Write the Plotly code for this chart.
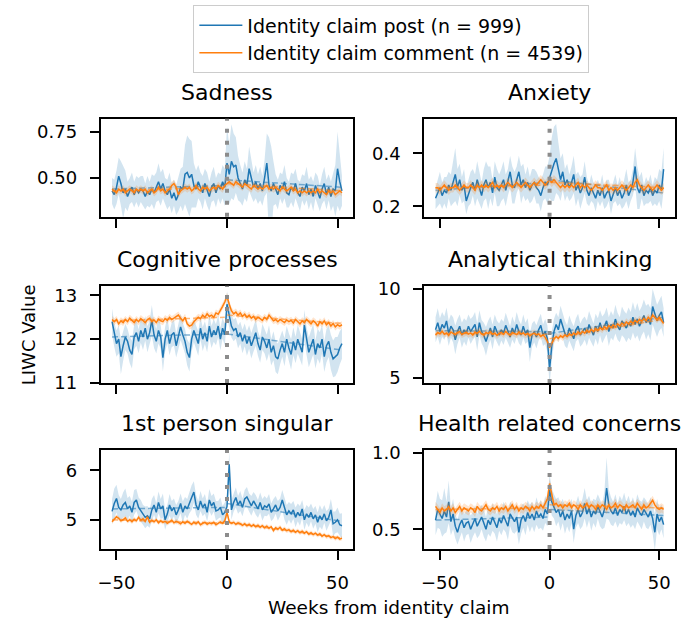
import plotly.graph_objects as go

weeks = list(range(-52, 53))

series_names = ["Identity claim post (n = 999)", "Identity claim comment (n = 4539)"]
panel_titles = ["Sadness", "Anxiety", "Cognitive processes", "Analytical thinking",
                "1st person singular", "Health related concerns"]

# ---------------- Sadness ----------------
sadness_post = [0.43,0.41,0.45,0.51,0.47,0.42,0.44,0.40,0.43,0.45,0.41,0.44,0.42,0.44,0.43,
                0.40,0.43,0.41,0.44,0.42,0.45,0.48,0.44,0.47,0.43,0.41,0.44,0.39,0.42,0.38,
                0.41,0.45,0.44,0.52,0.53,0.50,0.52,0.46,0.44,0.48,0.45,0.42,0.47,0.44,0.40,
                0.45,0.47,0.42,0.46,0.44,0.48,0.45,0.58,0.52,0.59,0.56,0.57,0.50,0.47,0.44,
                0.49,0.46,0.55,0.50,0.45,0.48,0.44,0.47,0.43,0.50,0.58,0.46,0.43,0.47,0.44,
                0.41,0.46,0.44,0.48,0.42,0.41,0.45,0.43,0.47,0.42,0.40,0.45,0.43,0.47,0.41,
                0.44,0.40,0.46,0.43,0.39,0.44,0.47,0.41,0.45,0.40,0.44,0.43,0.55,0.48,0.43]
sadness_post_ci = [.07,.08,.09,.10,.12,.14,.10,.08,.07,.08,.07,.07,.08,.07,.08,
                   .07,.08,.07,.08,.09,.08,.10,.09,.08,.07,.08,.09,.08,.07,.08,
                   .09,.10,.12,.16,.20,.21,.18,.12,.10,.09,.08,.09,.08,.09,.08,
                   .08,.09,.08,.07,.08,.09,.10,.20,.16,.20,.18,.15,.12,.10,.09,
                   .10,.09,.12,.10,.08,.09,.08,.09,.08,.10,.16,.26,.24,.12,.08,
                   .08,.07,.08,.09,.08,.07,.08,.09,.08,.07,.08,.07,.08,.09,.08,
                   .07,.08,.07,.08,.07,.08,.09,.08,.07,.08,.09,.14,.20,.16,.08]
sadness_comment = [0.44,0.43,0.42,0.44,0.43,0.44,0.42,0.43,0.44,0.43,0.42,0.44,0.43,0.44,0.43,
                   0.44,0.42,0.43,0.44,0.42,0.43,0.45,0.43,0.44,0.42,0.43,0.44,0.46,0.47,0.45,
                   0.41,0.43,0.44,0.45,0.44,0.45,0.43,0.44,0.46,0.44,0.43,0.45,0.44,0.45,0.43,
                   0.44,0.45,0.44,0.46,0.45,0.44,0.46,0.47,0.48,0.47,0.46,0.48,0.47,0.46,0.45,
                   0.47,0.46,0.45,0.44,0.46,0.45,0.44,0.45,0.44,0.45,0.46,0.44,0.45,0.44,0.45,
                   0.44,0.43,0.45,0.44,0.43,0.44,0.45,0.43,0.44,0.42,0.43,0.42,0.43,0.42,0.43,
                   0.42,0.43,0.42,0.44,0.42,0.43,0.42,0.41,0.43,0.42,0.43,0.41,0.42,0.43,0.42]
sadness_comment_ci = 0.02
sadness_trend_post = [0.44, 0.46, 0.49, 0.45]
sadness_trend_comment = [0.43, 0.45, 0.47, 0.43]

# ---------------- Anxiety ----------------
anxiety_post = [0.23,0.25,0.27,0.24,0.26,0.25,0.28,0.26,0.29,0.32,0.27,0.30,0.26,0.28,0.22,
                0.25,0.27,0.29,0.26,0.30,0.27,0.24,0.28,0.30,0.27,0.29,0.25,0.31,0.27,0.26,
                0.28,0.30,0.26,0.29,0.33,0.28,0.27,0.30,0.33,0.28,0.30,0.27,0.29,0.26,0.28,
                0.29,0.27,0.26,0.24,0.27,0.29,0.28,0.31,0.34,0.36,0.38,0.34,0.30,0.33,0.28,
                0.30,0.27,0.29,0.32,0.26,0.28,0.25,0.27,0.31,0.26,0.24,0.27,0.25,0.23,0.26,
                0.24,0.27,0.23,0.25,0.26,0.22,0.25,0.27,0.24,0.26,0.23,0.25,0.28,0.24,0.26,
                0.29,0.35,0.27,0.25,0.28,0.24,0.26,0.25,0.27,0.24,0.26,0.25,0.28,0.26,0.34]
anxiety_post_ci = [.04,.05,.06,.05,.05,.06,.05,.06,.08,.10,.07,.06,.05,.06,.05,
                   .05,.06,.05,.06,.07,.06,.05,.06,.07,.08,.06,.05,.06,.07,.06,
                   .06,.07,.06,.05,.06,.07,.06,.05,.06,.07,.06,.05,.06,.05,.06,
                   .05,.06,.05,.06,.05,.06,.07,.08,.12,.14,.13,.10,.08,.07,.06,
                   .06,.05,.06,.07,.06,.05,.06,.05,.06,.05,.04,.05,.04,.05,.04,
                   .04,.05,.04,.05,.04,.05,.04,.05,.04,.05,.04,.05,.06,.05,.04,
                   .05,.07,.08,.06,.05,.04,.05,.04,.05,.04,.05,.05,.06,.07,.08]
anxiety_comment = [0.27,0.27,0.26,0.27,0.28,0.27,0.26,0.27,0.27,0.28,0.27,0.26,0.27,0.28,0.27,
                   0.27,0.28,0.27,0.26,0.28,0.27,0.28,0.27,0.28,0.27,0.28,0.29,0.27,0.28,0.27,
                   0.28,0.27,0.28,0.29,0.28,0.27,0.28,0.29,0.28,0.27,0.28,0.29,0.28,0.27,0.28,
                   0.29,0.28,0.29,0.30,0.29,0.28,0.29,0.30,0.29,0.30,0.29,0.28,0.27,0.28,0.27,
                   0.28,0.27,0.28,0.27,0.28,0.29,0.27,0.28,0.27,0.28,0.27,0.26,0.27,0.28,0.27,
                   0.27,0.26,0.27,0.28,0.26,0.27,0.26,0.27,0.26,0.27,0.28,0.27,0.26,0.27,0.28,
                   0.27,0.29,0.30,0.28,0.27,0.26,0.27,0.28,0.27,0.26,0.27,0.28,0.27,0.26,0.27]
anxiety_comment_ci = 0.018
anxiety_trend_post = [0.26, 0.29, 0.30, 0.25]
anxiety_trend_comment = [0.27, 0.28, 0.29, 0.27]

# ---------------- Cognitive processes ----------------
cognitive_post = [12.40,12.10,11.90,12.00,11.60,11.85,12.05,11.95,11.75,11.65,12.05,12.15,11.95,12.20,12.05,
                  12.25,12.00,12.15,12.43,12.10,11.95,12.20,12.05,11.58,12.00,12.20,11.90,12.10,12.15,11.85,
                  12.05,12.28,12.10,11.95,11.70,11.58,12.00,12.20,12.05,11.90,12.25,12.00,12.15,11.95,12.30,
                  12.05,12.20,12.10,12.30,12.00,12.25,12.10,12.80,12.55,12.30,12.20,12.25,12.05,12.15,11.95,
                  12.10,11.90,12.05,11.85,12.00,12.15,11.90,11.75,12.05,11.95,11.80,12.00,11.70,11.85,11.60,
                  11.55,11.75,11.90,11.70,12.00,11.80,11.65,11.95,11.75,12.00,11.85,11.70,12.32,11.95,11.70,
                  11.85,12.00,11.65,11.90,11.80,12.00,11.60,11.85,11.95,11.70,11.55,11.60,11.65,11.80,11.90]
cognitive_post_ci = [.30,.28,.30,.32,.40,.35,.30,.28,.30,.32,.28,.30,.27,.28,.30,
                     .28,.30,.27,.35,.30,.28,.30,.27,.32,.28,.30,.27,.28,.30,.27,
                     .28,.30,.27,.28,.30,.32,.28,.27,.26,.28,.25,.27,.26,.25,.27,
                     .25,.26,.24,.25,.26,.24,.25,.30,.28,.26,.25,.24,.26,.25,.27,
                     .26,.28,.27,.29,.28,.30,.28,.29,.30,.28,.30,.32,.30,.33,.35,
                     .35,.33,.30,.32,.30,.33,.35,.32,.30,.33,.31,.30,.35,.32,.34,
                     .33,.35,.32,.34,.36,.33,.35,.38,.36,.40,.42,.45,.40,.38,.35]
cognitive_comment = [12.45,12.40,12.45,12.35,12.42,12.38,12.45,12.40,12.48,12.42,12.38,12.45,12.40,12.47,12.43,
                     12.38,12.45,12.48,12.40,12.44,12.38,12.46,12.42,12.40,12.47,12.43,12.50,12.45,12.48,12.52,
                     12.55,12.48,12.42,12.50,12.35,12.30,12.32,12.40,12.45,12.50,12.47,12.55,12.50,12.58,12.52,
                     12.55,12.50,12.60,12.57,12.65,12.75,12.85,12.98,12.80,12.65,12.58,12.62,12.55,12.60,12.52,
                     12.57,12.50,12.55,12.48,12.52,12.45,12.50,12.47,12.43,12.50,12.45,12.55,12.48,12.42,12.45,
                     12.40,12.45,12.42,12.38,12.44,12.40,12.43,12.37,12.45,12.40,12.35,12.42,12.38,12.45,12.40,
                     12.35,12.42,12.38,12.30,12.40,12.35,12.42,12.33,12.38,12.30,12.36,12.28,12.33,12.30,12.33]
cognitive_comment_ci = 0.08
cognitive_trend_post = [12.05, 12.12, 12.12, 11.75]
cognitive_trend_comment = [12.42, 12.50, 12.55, 12.36]

# ---------------- Analytical thinking ----------------
analytical_post = [7.70,8.10,7.60,8.00,7.80,8.20,7.50,7.90,7.70,7.14,7.60,7.90,7.40,7.70,7.50,
                   7.90,7.60,7.80,8.00,7.30,8.10,7.60,7.40,7.05,7.50,7.80,7.30,7.90,7.60,7.40,
                   7.70,7.50,7.95,7.60,7.30,7.80,7.50,8.00,7.60,7.40,7.90,7.50,7.70,6.70,7.40,
                   7.60,7.30,7.70,7.95,7.40,7.60,7.20,5.50,6.80,7.60,8.00,7.70,8.30,7.90,7.50,
                   7.30,7.80,7.50,7.20,7.70,7.90,7.40,7.60,7.80,7.50,8.00,7.70,7.40,7.90,7.60,
                   8.10,7.70,7.90,8.20,7.60,8.00,7.80,8.30,7.90,7.70,8.20,8.00,7.80,8.10,7.90,
                   8.40,8.00,8.30,7.90,8.20,8.50,8.10,8.30,8.00,9.00,8.60,8.20,8.50,8.70,8.10]
analytical_post_ci = [.70,.80,.75,.70,.65,.75,.70,.65,.70,.80,.70,.65,.70,.65,.70,
                      .65,.70,.65,.70,.75,.70,.65,.70,.80,.70,.65,.70,.65,.60,.65,
                      .60,.65,.70,.65,.60,.65,.60,.70,.65,.60,.65,.60,.65,.80,.65,
                      .60,.65,.60,.65,.60,.70,.75,.90,.80,.70,.65,.70,.75,.65,.70,
                      .65,.70,.65,.70,.65,.70,.65,.70,.65,.70,.75,.70,.65,.70,.75,
                      .70,.75,.70,.75,.80,.75,.70,.80,.75,.70,.80,.75,.80,.85,.80,
                      .85,.80,.90,.85,.80,.90,.95,.85,.90,1.0,.95,.90,.85,.90,.80]
analytical_comment = [7.40,7.55,7.48,7.62,7.45,7.52,7.38,7.58,7.50,7.42,7.55,7.60,7.44,7.50,7.57,
                      7.46,7.53,7.41,7.58,7.50,7.62,7.47,7.40,7.55,7.49,7.60,7.45,7.52,7.38,7.50,
                      7.56,7.44,7.61,7.48,7.39,7.55,7.50,7.43,7.58,7.47,7.53,7.41,7.50,7.36,7.46,
                      7.52,7.40,7.47,7.33,7.42,7.28,7.05,6.70,6.95,7.18,7.32,7.22,7.38,7.27,7.42,
                      7.33,7.48,7.38,7.52,7.43,7.58,7.47,7.62,7.51,7.68,7.57,7.72,7.60,7.78,7.66,
                      7.82,7.71,7.88,7.76,7.93,7.82,7.98,7.86,8.03,7.92,8.08,7.96,8.14,8.02,8.18,
                      8.06,8.23,8.12,8.28,8.17,8.34,8.21,8.40,8.27,8.52,8.38,8.26,8.40,8.22,8.05]
analytical_comment_ci = 0.2
analytical_trend_post = [7.65, 7.60, 7.50, 8.40]
analytical_trend_comment = [7.50, 7.45, 7.20, 8.30]

# ---------------- 1st person singular ----------------
first_person_post = [5.17,5.33,5.43,5.25,5.20,5.30,5.35,5.22,5.28,5.15,5.35,5.40,5.25,5.18,5.10,
                     5.05,5.08,5.02,5.20,5.30,5.15,5.35,5.22,5.28,5.00,5.12,5.30,5.18,5.25,5.10,
                     5.20,5.33,5.15,5.28,5.22,5.35,5.45,5.56,5.30,5.20,5.38,5.25,5.32,5.15,5.40,
                     5.28,5.35,5.18,5.20,5.25,5.10,5.15,5.27,6.12,5.20,5.35,5.45,5.30,5.38,5.25,
                     5.42,5.46,5.35,5.28,5.38,5.30,5.22,5.35,5.20,5.28,5.25,5.32,5.15,5.22,5.30,
                     5.18,5.25,5.40,5.22,5.10,5.18,5.12,5.20,5.05,5.15,5.08,5.22,5.00,5.12,5.05,
                     5.15,5.02,5.10,4.95,5.08,5.00,5.12,4.98,5.05,5.20,4.92,4.95,5.00,4.90,4.88]
first_person_post_ci = [.25,.30,.28,.25,.22,.25,.28,.22,.20,.22,.25,.22,.20,.22,.20,
                        .22,.20,.18,.22,.20,.18,.22,.20,.25,.20,.18,.22,.20,.18,.20,
                        .18,.20,.22,.18,.20,.22,.25,.22,.20,.18,.20,.18,.20,.18,.22,
                        .20,.18,.20,.18,.20,.18,.20,.22,.25,.20,.18,.20,.18,.20,.18,
                        .18,.20,.18,.20,.18,.20,.18,.20,.22,.20,.18,.20,.18,.20,.18,
                        .20,.18,.20,.22,.20,.18,.20,.18,.20,.18,.20,.18,.20,.18,.20,
                        .18,.20,.18,.20,.22,.20,.18,.20,.18,.22,.25,.22,.25,.22,.25]
first_person_comment = [4.96,5.02,5.06,5.03,4.98,5.00,5.04,4.97,5.00,4.96,5.01,4.98,5.05,4.99,5.02,
                        4.97,5.06,4.95,4.99,4.96,5.00,4.94,4.98,4.95,4.97,4.93,4.96,4.99,4.94,4.97,
                        4.95,4.92,4.96,4.93,4.97,4.94,4.91,4.95,4.92,4.96,4.90,4.93,4.95,4.91,4.94,
                        4.92,4.95,4.90,4.94,4.96,4.93,4.98,5.15,4.96,4.93,4.95,4.91,4.94,4.92,4.89,
                        4.92,4.88,4.91,4.87,4.90,4.86,4.89,4.85,4.88,4.84,4.87,4.83,4.86,4.78,4.84,
                        4.81,4.85,4.79,4.82,4.78,4.80,4.76,4.79,4.75,4.78,4.74,4.77,4.73,4.76,4.71,
                        4.74,4.70,4.73,4.69,4.72,4.67,4.70,4.66,4.68,4.64,4.66,4.62,4.65,4.61,4.63]
first_person_comment_ci = 0.045
first_person_trend_post = [5.22, 5.25, 5.33, 4.97]
first_person_trend_comment = [5.00, 4.93, 4.95, 4.63]

# ---------------- Health related concerns ----------------
health_post = [0.56,0.63,0.60,0.57,0.62,0.58,0.68,0.55,0.60,0.52,0.48,0.53,0.56,0.51,0.54,
               0.55,0.50,0.53,0.57,0.52,0.55,0.58,0.54,0.50,0.56,0.53,0.58,0.55,0.51,0.57,
               0.54,0.59,0.56,0.52,0.60,0.57,0.55,0.58,0.48,0.56,0.59,0.55,0.61,0.57,0.60,
               0.56,0.62,0.58,0.60,0.57,0.63,0.60,0.76,0.68,0.65,0.61,0.63,0.58,0.62,0.56,
               0.60,0.57,0.62,0.50,0.59,0.63,0.58,0.61,0.67,0.60,0.64,0.58,0.62,0.60,0.65,
               0.61,0.58,0.63,0.77,0.66,0.62,0.60,0.64,0.59,0.63,0.61,0.65,0.60,0.63,0.59,
               0.62,0.58,0.64,0.61,0.59,0.63,0.60,0.58,0.62,0.57,0.48,0.60,0.55,0.58,0.53]
health_post_ci = [.10,.12,.10,.12,.15,.10,.14,.09,.10,.08,.08,.09,.08,.09,.08,
                  .08,.09,.08,.09,.08,.09,.08,.09,.08,.09,.08,.09,.08,.09,.08,
                  .08,.09,.08,.09,.08,.09,.08,.09,.08,.09,.08,.09,.08,.09,.08,
                  .08,.09,.08,.09,.08,.09,.08,.10,.09,.08,.09,.08,.09,.08,.09,
                  .08,.09,.08,.09,.08,.09,.08,.09,.10,.09,.08,.09,.08,.09,.08,
                  .09,.08,.12,.20,.10,.09,.08,.09,.08,.09,.08,.09,.08,.09,.08,
                  .09,.08,.09,.08,.09,.08,.09,.08,.09,.10,.12,.10,.09,.08,.09]
health_comment = [0.65,0.63,0.61,0.64,0.62,0.63,0.65,0.62,0.64,0.61,0.63,0.65,0.62,0.64,0.63,
                  0.62,0.64,0.63,0.61,0.65,0.63,0.62,0.64,0.66,0.63,0.62,0.64,0.63,0.65,0.62,
                  0.64,0.63,0.65,0.62,0.64,0.66,0.63,0.65,0.62,0.64,0.63,0.65,0.64,0.62,0.65,
                  0.63,0.65,0.64,0.66,0.64,0.67,0.70,0.80,0.72,0.66,0.67,0.65,0.66,0.64,0.66,
                  0.65,0.67,0.64,0.66,0.65,0.63,0.66,0.64,0.65,0.67,0.64,0.66,0.65,0.63,0.66,
                  0.64,0.66,0.65,0.63,0.66,0.64,0.65,0.67,0.64,0.66,0.65,0.63,0.66,0.64,0.65,
                  0.66,0.64,0.67,0.65,0.63,0.66,0.64,0.65,0.67,0.69,0.66,0.64,0.63,0.64,0.63]
health_comment_ci = 0.03
health_trend_post = [0.56, 0.58, 0.63, 0.59]
health_trend_comment = [0.63, 0.64, 0.66, 0.64]

# y axis settings per panel: range, tick values, tick labels
y_ranges = [[0.29, 0.82], [0.16, 0.53], [11.0, 13.22], [4.73, 10.16], [4.41, 6.41], [0.37, 1.02]]
y_tickvals = [[0.50, 0.75], [0.2, 0.4], [11, 12, 13], [5, 10], [5, 6], [0.5, 1.0]]
y_ticktext = [["0.50", "0.75"], ["0.2", "0.4"], ["11", "12", "13"], ["5", "10"], ["5", "6"], ["0.5", "1.0"]]
x_tickvals = [-50, 0, 50]
x_ticktext = ["\u221250", "0", "50"]

panels = [
    (sadness_post, sadness_post_ci, sadness_comment, sadness_comment_ci, sadness_trend_post, sadness_trend_comment),
    (anxiety_post, anxiety_post_ci, anxiety_comment, anxiety_comment_ci, anxiety_trend_post, anxiety_trend_comment),
    (cognitive_post, cognitive_post_ci, cognitive_comment, cognitive_comment_ci, cognitive_trend_post, cognitive_trend_comment),
    (analytical_post, analytical_post_ci, analytical_comment, analytical_comment_ci, analytical_trend_post, analytical_trend_comment),
    (first_person_post, first_person_post_ci, first_person_comment, first_person_comment_ci, first_person_trend_post, first_person_trend_comment),
    (health_post, health_post_ci, health_comment, health_comment_ci, health_trend_post, health_trend_comment),
]

W, H = 681, 628
BLUE = "#1f77b4"
ORANGE = "#ff7f0e"
BLUE_FILL = "rgba(31,119,180,0.2)"
ORANGE_FILL = "rgba(255,127,14,0.2)"
FONT = "DejaVu Sans"

# panel pixel boxes (left, right, top, bottom)
cols_px = [(98, 352), (423, 675)]
rows_px = [(114, 215), (286, 386), (455, 557)]

fig = go.Figure()
layout = dict(width=W, height=H, margin=dict(l=0, r=0, t=0, b=0),
              paper_bgcolor="white", plot_bgcolor="white",
              font=dict(family=FONT, size=16, color="black"))
annotations = []
shapes = []


def band(mean, ci):
    cis = ci if isinstance(ci, list) else [ci] * len(mean)
    upper = [m + c for m, c in zip(mean, cis)]
    lower = [m - c for m, c in zip(mean, cis)]
    return weeks + weeks[::-1], upper + lower[::-1]


for i, (post, post_ci, com, com_ci, tr_post, tr_com) in enumerate(panels):
    r, c = divmod(i, 2)
    n = i + 1
    xa = "x" if n == 1 else f"x{n}"
    ya = "y" if n == 1 else f"y{n}"
    l, rr = cols_px[c]
    t, b = rows_px[r]
    xdom = [l / W, rr / W]
    ydom = [1 - b / H, 1 - t / H]

    for mean, ci, tr, col, fill, name in [
        (post, post_ci, tr_post, BLUE, BLUE_FILL, series_names[0]),
        (com, com_ci, tr_com, ORANGE, ORANGE_FILL, series_names[1]),
    ]:
        bx, by = band(mean, ci)
        fig.add_trace(go.Scatter(x=bx, y=by, xaxis=xa, yaxis=ya, fill="toself",
                                 fillcolor=fill, line=dict(width=0), mode="lines",
                                 hoverinfo="skip", showlegend=False))
        fig.add_trace(go.Scatter(x=[weeks[0], -1, None, 0, weeks[-1]],
                                 y=[tr[0], tr[1], None, tr[2], tr[3]],
                                 xaxis=xa, yaxis=ya, mode="lines",
                                 line=dict(color=col, width=1.5, dash="6px,3px"),
                                 opacity=0.55, hoverinfo="skip", showlegend=False))
        fig.add_trace(go.Scatter(x=weeks, y=mean, xaxis=xa, yaxis=ya, mode="lines",
                                 line=dict(color=col, width=1.5), name=name,
                                 showlegend=(n == 1)))

    axis_common = dict(showline=True, mirror=True, linecolor="black", linewidth=1.6,
                       ticks="outside", ticklen=9, tickwidth=1.5, tickcolor="black",
                       showgrid=False, zeroline=False,
                       tickfont=dict(family=FONT, size=18, color="black"))
    xkey = "xaxis" if n == 1 else f"xaxis{n}"
    ykey = "yaxis" if n == 1 else f"yaxis{n}"
    layout[xkey] = dict(axis_common, domain=xdom, anchor=ya, range=[-57.2, 57.2],
                        tickvals=x_tickvals, ticktext=x_ticktext,
                        showticklabels=(r == 2), ticklabelstandoff=8)
    layout[ykey] = dict(axis_common, domain=ydom, anchor=xa, range=y_ranges[i],
                        tickvals=y_tickvals[i], ticktext=y_ticktext[i],
                        ticklabelstandoff=9)

    shapes.append(dict(type="line", xref=xa, yref=f"{ya} domain", x0=0, x1=0, y0=0, y1=1,
                       line=dict(color="#8c8c8c", width=4, dash="4px,8px"), layer="above"))

    annotations.append(dict(text=panel_titles[i], xref="paper", yref="paper",
                            x=(xdom[0] + xdom[1]) / 2, y=ydom[1], xanchor="center",
                            yanchor="bottom", yshift=12, showarrow=False,
                            font=dict(family=FONT, size=22, color="black")))

annotations.append(dict(text="LIWC Value", xref="paper", yref="paper", x=25 / W, y=1 - 336 / H,
                        xanchor="center", yanchor="middle", textangle=-90, showarrow=False,
                        font=dict(family=FONT, size=18, color="black")))
annotations.append(dict(text="Weeks from identity claim", xref="paper", yref="paper",
                        x=387 / W, y=1 - 617 / H, xanchor="center", yanchor="middle",
                        showarrow=False, font=dict(family=FONT, size=18.5, color="black")))

layout["annotations"] = annotations
layout["shapes"] = shapes
layout["showlegend"] = True
layout["legend"] = dict(x=191 / W, y=1 + 3 / H, xanchor="left", yanchor="top",
                        bgcolor="white", bordercolor="#cccccc", borderwidth=1.2,
                        font=dict(family=FONT, size=19, color="black"),
                        itemwidth=43, tracegroupgap=0)
fig.update_layout(**layout)
fig.write_html("out.html", config={"displayModeBar": False},
               post_script="document.body.style.margin='0';document.body.style.padding='0';")
